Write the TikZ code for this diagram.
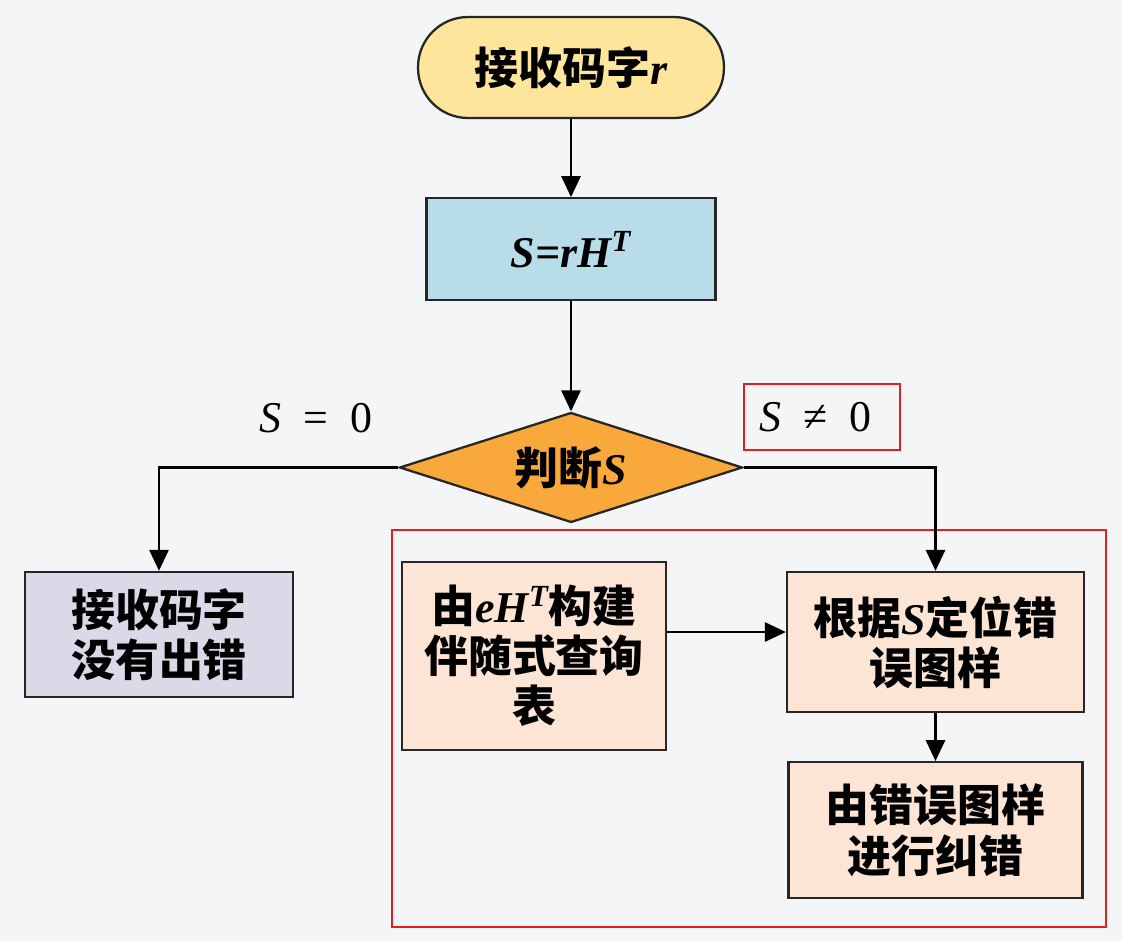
\documentclass[tikz,border=0pt]{standalone}
\usepackage{fontspec}
\setmainfont{Liberation Serif}
\newfontfamily\cjk{Noto Sans CJK SC}
\usepackage{tikz}
\usetikzlibrary{shapes.geometric, arrows.meta, positioning}
\usepackage{xcolor}
\definecolor{bgGray}{HTML}{F4F5F6}
\definecolor{startYellow}{HTML}{FDE59B}
\definecolor{synBlue}{HTML}{B8DDE8}
\definecolor{decOrange}{HTML}{F9A93B}
\definecolor{okLilac}{HTML}{DDD8E8}
\definecolor{stepPeach}{HTML}{FCE5D5}
\definecolor{markRed}{HTML}{E02020}
\newcommand{\mi}[1]{{\rmfamily\bfseries\itshape #1}}

\begin{document}
\begin{tikzpicture}[
    x=0.02cm, y=-0.02cm,
    box/.style={rectangle, draw=black!85, line width=1.3pt, align=center,
        font=\cjk\bfseries\fontsize{25pt}{28.5pt}\selectfont, inner sep=0pt},
    term/.style={box, rounded corners=1cm, fill=startYellow, minimum width=6.12cm, minimum height=2.02cm},
    decide/.style={diamond, draw=black!85, line width=1.3pt, fill=decOrange, inner sep=0pt,
        minimum width=6.86cm, minimum height=2.2cm, aspect=3.1,
        font=\cjk\bfseries\fontsize{25pt}{28.5pt}\selectfont},
    lbl/.style={font=\rmfamily\fontsize{25pt}{28pt}\selectfont, inner sep=0pt},
    arrow/.style={-{Triangle[length=0.42cm, width=0.38cm]}, line width=1.6pt},
]
    % canvas
    \fill[bgGray] (0,0) rectangle (1122,941);
    \useasboundingbox (0,0) rectangle (1122,941);

    % main column
    \node[term] (start) at (571,67.5) {接收码字\mi{r}};
    \node[box, fill=synBlue, minimum width=5.78cm, minimum height=2.04cm, below=1.56cm of start] (syn)
        {\mi{S}\mi{=}\mi{rH}\textsuperscript{\mi{T}}};
    \node[decide, below=2.2cm of syn] (dec) {判断\mi{S}};

    % branch labels
    \node[lbl] (s0) at (316,418) {\textit{S}\enspace=\enspace0};
    \node[lbl, draw=markRed, line width=1.2pt, minimum width=3.12cm, minimum height=1.32cm,
        text width=2.9cm, align=left] (sn0) at (822,417)
        {\hspace{0.2cm}\textit{S}\enspace≠\enspace0};

    % no error
    \node[box, fill=okLilac, minimum width=5.36cm, minimum height=2.5cm] (nochk) at (159,634.5) {接收码字\\没有出错};

    % correction part
    \draw[markRed, line width=1.2pt] (392,530) rectangle (1106,927);
    \node[box, fill=stepPeach, minimum width=5.28cm, minimum height=3.76cm] (eht) at (534,656)
        {由\mi{eH}\textsuperscript{\mi{T}}构建\\伴随式查询\\表};
    \node[box, fill=stepPeach, minimum width=5.94cm, minimum height=2.8cm] (locate) at (935.5,642)
        {根据\mi{S}定位错\\误图样};
    \node[box, fill=stepPeach, minimum width=5.88cm, minimum height=2.72cm, below=0.96cm of locate] (correct)
        {由错误图样\\进行纠错};
    \coordinate (tabin) at ([yshift=0.2cm]locate.west);

    % Arrows
    \draw[arrow] (start) -- (syn);
    \draw[arrow] (syn) -- (dec);
    \draw[arrow] (dec.west) -| (nochk.north);
    \draw[arrow] (dec.east) -| (locate.north);
    \draw[arrow] (eht.east |- tabin) -- (tabin);
    \draw[arrow] (locate) -- (correct);
\end{tikzpicture}
\end{document}
